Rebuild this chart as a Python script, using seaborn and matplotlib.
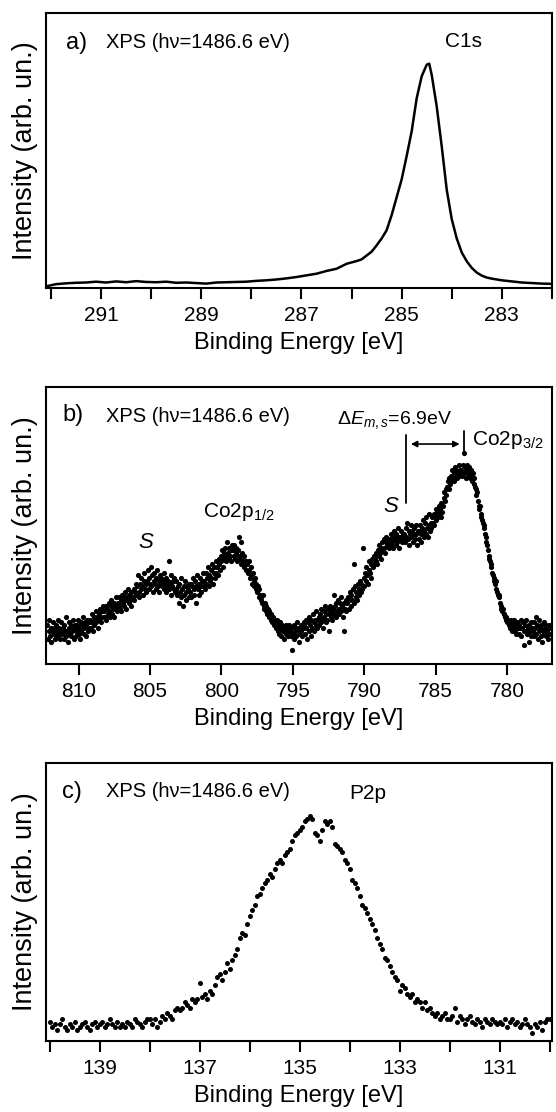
import matplotlib.pyplot as plt
import numpy as np
import pandas as pd
import seaborn as sns
from matplotlib.ticker import MultipleLocator, NullFormatter


# panel a: C1s line (arb. units, 0 = frame bottom, 100 = frame top)
C1S_ENERGY = [
    292.1, 291.9, 291.7, 291.5, 291.3, 291.1, 290.9, 290.7, 290.5, 290.3,
    290.1, 289.9, 289.7, 289.5, 289.3, 289.1, 288.9, 288.7, 288.5, 288.3,
    288.1, 287.9, 287.7, 287.5, 287.3, 287.1, 286.9, 286.7, 286.5, 286.3,
    286.1, 285.9, 285.8, 285.7, 285.6, 285.5, 285.4, 285.3, 285.2, 285.1,
    285.0, 284.9, 284.8, 284.7, 284.6, 284.5, 284.45, 284.4, 284.3, 284.2,
    284.1, 284.0, 283.9, 283.8, 283.7, 283.6, 283.5, 283.4, 283.3, 283.2,
    283.0, 282.8, 282.6, 282.4, 282.2, 282.0,
]
C1S_INTENSITY = [
    0.6, 1.4, 1.7, 1.9, 2.0, 2.3, 2.0, 2.4, 2.1, 2.5,
    2.2, 2.1, 2.3, 1.9, 2.0, 1.8, 1.6, 2.0, 2.1, 2.2,
    2.3, 2.6, 2.8, 3.1, 3.5, 4.0, 4.6, 5.2, 6.2, 7.0,
    8.8, 9.8, 10.4, 11.8, 13.2, 15.5, 18.0, 21.0, 26.5, 33.0,
    39.5, 48.0, 57.0, 69.0, 77.0, 81.2, 81.6, 77.5, 66.0, 51.5,
    35.7, 25.0, 18.0, 12.9, 9.7, 7.3, 5.6, 4.5, 3.8, 3.4,
    2.8, 2.4, 2.0, 1.8, 1.6, 1.5,
]

# panel b: Co2p points, one per 0.05 eV from 812.2 eV down to 777.0 eV
CO2P_START, CO2P_STOP = 812.2, 777.0
CO2P_INTENSITY = [
    14, 9, 12, 16, 10, 13, 8, 12, 15, 11, 13, 9, 14, 12, 10, 16, 11, 13, 9, 12,
    15, 11, 13, 9, 14, 12, 17, 10, 12, 8, 13, 15, 11, 14, 10, 12, 16, 13, 9, 14,
    12, 10, 14, 16, 11, 13, 9, 15, 12, 14, 17, 11, 13, 15, 10, 14, 16, 12, 15, 13,
    16, 13, 15, 18, 12, 17, 14, 16, 19, 15, 17, 13, 18, 16, 20, 17, 15, 19, 21, 17,
    19, 17, 21, 16, 20, 18, 22, 19, 17, 21, 23, 18, 20, 22, 17, 21, 24, 20, 19, 22,
    21, 24, 20, 23, 19, 25, 22, 24, 21, 26, 23, 20, 24, 27, 22, 25, 23, 21, 26, 24,
    24, 27, 23, 26, 29, 25, 28, 32, 26, 24, 29, 27, 31, 28, 25, 30, 33, 27, 29, 26,
    30, 34, 27, 31, 29, 35, 28, 32, 26, 30, 33, 29, 27, 31, 34, 28, 30, 26, 32, 29,
    31, 28, 30, 27, 33, 29, 26, 31, 28, 30, 37, 27, 29, 32, 25, 28, 30, 27, 31, 26,
    27, 30, 25, 28, 22, 29, 26, 24, 31, 27, 21, 28, 25, 30, 26, 23, 28, 27, 24, 29,
    26, 29, 24, 28, 31, 27, 25, 30, 22, 28, 32, 27, 29, 25, 31, 28, 26, 30, 33, 28,
    30, 27, 33, 29, 31, 35, 28, 32, 30, 34, 31, 36, 29, 33, 35, 31, 37, 33, 35, 32,
    36, 38, 34, 39, 37, 41, 35, 40, 38, 42, 37, 39, 44, 40, 38, 42, 39, 41, 37, 43,
    41, 39, 43, 38, 40, 42, 37, 41, 46, 39, 38, 44, 36, 40, 37, 35, 39, 36, 34, 37,
    36, 33, 37, 34, 31, 35, 32, 29, 33, 30, 28, 31, 27, 29, 26, 28, 24, 27, 25, 23,
    24, 22, 25, 21, 20, 22, 19, 21, 18, 20, 17, 19, 18, 16, 18, 15, 17, 16, 14, 16,
    15, 13, 16, 12, 14, 11, 15, 13, 10, 14, 12, 13, 9, 12, 14, 11, 13, 10, 12, 14,
    12, 10, 13, 5, 11, 14, 9, 12, 13, 10, 15, 12, 8, 13, 11, 14, 12, 10, 13, 15,
    14, 11, 16, 13, 9, 15, 12, 17, 14, 10, 16, 13, 18, 15, 12, 16, 14, 19, 13, 16,
    17, 14, 18, 15, 20, 16, 13, 19, 17, 21, 15, 18, 16, 20, 12, 18, 21, 17, 19, 16,
    20, 25, 18, 21, 17, 22, 19, 23, 20, 18, 22, 19, 24, 21, 17, 12, 22, 20, 23, 19,
    22, 24, 20, 23, 26, 21, 25, 23, 27, 22, 36, 28, 24, 26, 23, 29, 25, 27, 30, 26,
    29, 27, 42, 31, 28, 33, 30, 35, 32, 29, 34, 37, 33, 36, 31, 38, 35, 39, 36, 38,
    37, 40, 36, 41, 39, 43, 40, 38, 42, 44, 41, 45, 42, 40, 44, 46, 43, 45, 42, 44,
    45, 43, 47, 44, 42, 46, 48, 45, 43, 47, 44, 49, 46, 42, 45, 48, 46, 44, 47, 45,
    47, 44, 49, 46, 51, 45, 48, 43, 47, 50, 46, 48, 44, 49, 47, 45, 50, 47, 43, 48,
    48, 45, 50, 47, 44, 49, 52, 46, 48, 51, 47, 53, 49, 46, 50, 54, 48, 51, 49, 53,
    51, 54, 50, 53, 56, 52, 55, 53, 57, 54, 56, 53, 58, 55, 57, 60, 62, 59, 63, 61,
    64, 66, 63, 67, 65, 68, 66, 70, 67, 69, 66, 71, 68, 70, 67, 69, 72, 68, 70, 69,
    70, 68, 72, 76, 69, 71, 67, 70, 72, 68, 69, 71, 67, 70, 68, 66, 69, 65, 67, 64,
    63, 61, 62, 59, 57, 56, 57, 54, 53, 52, 51, 50, 49, 47, 46, 44, 43, 41, 39, 38,
    37, 35, 36, 33, 32, 31, 30, 29, 30, 27, 26, 25, 24, 25, 22, 21, 20, 19, 20, 18,
    18, 17, 16, 17, 15, 16, 14, 15, 13, 16, 14, 12, 15, 13, 16, 12, 14, 11, 15, 13,
    14, 11, 13, 16, 10, 13, 15, 12, 7, 14, 12, 16, 11, 13, 8, 14, 12, 15, 10, 13,
    12, 15, 10, 13, 17, 11, 14, 9, 12, 16, 13, 10, 14, 8, 12, 15, 11, 13, 10, 14,
    12, 9, 14, 11, 13,
]

# panel c: P2p points, one per 0.05 eV from 140.0 eV down to 130.0 eV
P2P_START, P2P_STOP = 140.0, 130.0
P2P_INTENSITY = [
    7, 5, 6, 4, 6, 8, 5, 4, 6, 5, 7, 4, 5, 6, 7, 5, 4, 6, 7, 5,
    6, 7, 5, 6, 8, 6, 5, 7, 5, 6, 5, 7, 6, 5, 8, 7, 6, 5, 7, 8,
    8, 6, 8, 5, 7, 9, 8, 10, 9, 8, 11, 12, 11, 12, 14, 13, 12, 15, 14, 15,
    21, 16, 17, 15, 18, 17, 20, 23, 24, 22, 25, 28, 26, 29, 31, 33, 37, 39, 38, 42,
    45, 47, 49, 52, 53, 55, 57, 58, 60, 59, 62, 64, 65, 64, 67, 68, 69, 72, 74, 75,
    76, 77, 79, 80, 81, 80, 75, 74, 72, 76, 79, 78, 79, 77, 71, 70, 69, 68, 65, 64,
    62, 58, 57, 55, 52, 49, 48, 46, 44, 42, 40, 37, 35, 33, 30, 29, 27, 25, 23, 22,
    18, 20, 19, 17, 16, 17, 14, 15, 14, 12, 14, 11, 12, 10, 9, 10, 8, 9, 10, 8,
    8, 9, 12, 7, 9, 8, 6, 8, 9, 7, 6, 8, 7, 5, 8, 7, 6, 8, 7, 6,
    7, 6, 8, 5, 7, 8, 6, 7, 5, 6, 8, 6, 5, 3, 6, 5, 7, 4, 7, 8,
    8,
]

XPS_NOTE = "XPS (h\u03bd=1486.6 eV)"
X_LABEL = "Binding Energy [eV]"
Y_LABEL = "Intensity (arb. un.)"

sns.set_style("ticks")
plt.rcParams["font.family"] = ["Liberation Sans", "DejaVu Sans"]
plt.rcParams["mathtext.fontset"] = "custom"
plt.rcParams["mathtext.rm"] = "Liberation Sans"
plt.rcParams["mathtext.it"] = "Liberation Sans:italic"
plt.rcParams["mathtext.bf"] = "Liberation Sans:bold"
plt.rcParams["text.color"] = "black"
plt.rcParams["axes.labelcolor"] = "black"

co2p = pd.DataFrame({
    "energy": np.linspace(CO2P_START, CO2P_STOP, len(CO2P_INTENSITY)),
    "intensity": CO2P_INTENSITY,
})
p2p = pd.DataFrame({
    "energy": np.linspace(P2P_START, P2P_STOP, len(P2P_INTENSITY)),
    "intensity": P2P_INTENSITY,
})
c1s = pd.DataFrame({"energy": C1S_ENERGY, "intensity": C1S_INTENSITY})


def style_axis(ax, xlim, major, minor=None):
    ax.set_xlim(*xlim)
    ax.set_ylim(0, 100)
    ax.set_yticks([])
    ax.xaxis.set_major_locator(MultipleLocator(major))
    if minor:
        ax.xaxis.set_minor_locator(MultipleLocator(minor))
        ax.xaxis.set_minor_formatter(NullFormatter())
    ax.tick_params(axis="x", which="both", direction="out", length=8, width=1.5,
                   pad=5, labelsize=15, colors="black", top=False)
    for spine in ax.spines.values():
        spine.set_visible(True)
        spine.set_linewidth(1.5)
        spine.set_color("black")
    ax.set_xlabel(X_LABEL, fontsize=17, labelpad=5)
    ax.set_ylabel(Y_LABEL, fontsize=19.5, labelpad=6)


fig = plt.figure(figsize=(5.56, 11.12), dpi=100)
ax_a = fig.add_axes([0.0827, 0.741, 0.910, 0.2473])
ax_b = fig.add_axes([0.0827, 0.4029, 0.910, 0.2491])
ax_c = fig.add_axes([0.0827, 0.0638, 0.910, 0.2500])

# a) C1s
sns.lineplot(data=c1s, x="energy", y="intensity", ax=ax_a, color="black",
             linewidth=1.8, estimator=None, sort=False)
style_axis(ax_a, (292.1, 282.0), 2, 1)
ax_a.xaxis.set_major_locator(MultipleLocator(2, offset=1))
ax_a.text(0.0395, 0.891, "a)", transform=ax_a.transAxes, fontsize=17, va="center")
ax_a.text(0.1186, 0.891, XPS_NOTE, transform=ax_a.transAxes, fontsize=14.5, va="center")
ax_a.text(0.825, 0.895, "C1s", transform=ax_a.transAxes, fontsize=15, va="center", ha="center")

# b) Co2p
sns.scatterplot(data=co2p, x="energy", y="intensity", ax=ax_b, color="black",
                s=14, linewidth=0)
style_axis(ax_b, (812.28, 776.86), 5)
ax_b.text(0.0316, 0.899, "b)", transform=ax_b.transAxes, fontsize=17, va="center")
ax_b.text(0.1186, 0.892, XPS_NOTE, transform=ax_b.transAxes, fontsize=14.5, va="center")
ax_b.text(0.575, 0.881, r"$\Delta E_{m,s}$=6.9eV", transform=ax_b.transAxes,
          fontsize=14, va="center")
ax_b.text(0.842, 0.791, r"Co2p$_{3/2}$", transform=ax_b.transAxes, fontsize=15,
          va="baseline")
ax_b.text(0.310, 0.531, r"Co2p$_{1/2}$", transform=ax_b.transAxes, fontsize=15,
          va="baseline")
ax_b.text(788.17, 0.567, "S", transform=ax_b.get_xaxis_transform(), fontsize=16,
          style="italic", ha="center", va="center")
ax_b.text(805.27, 0.437, "S", transform=ax_b.get_xaxis_transform(), fontsize=16,
          style="italic", ha="center", va="center")
ax_b.axvline(787.09, ymin=0.581, ymax=0.827, color="black", linewidth=1.3)
ax_b.axvline(783.04, ymin=0.762, ymax=0.841, color="black", linewidth=1.3)
ax_b.annotate("", xy=(783.32, 0.794), xytext=(786.74, 0.794),
              xycoords=ax_b.get_xaxis_transform(),
              arrowprops=dict(arrowstyle="<|-|>", color="black", lw=1.2,
                              mutation_scale=9, shrinkA=0, shrinkB=0))

# c) P2p
sns.scatterplot(data=p2p, x="energy", y="intensity", ax=ax_c, color="black",
                s=13, linewidth=0)
style_axis(ax_c, (140.08, 129.96), 2, 1)
ax_c.xaxis.set_major_locator(MultipleLocator(2, offset=1))
ax_c.text(0.0316, 0.896, "c)", transform=ax_c.transAxes, fontsize=17, va="center")
ax_c.text(0.1186, 0.896, XPS_NOTE, transform=ax_c.transAxes, fontsize=14.5, va="center")
ax_c.text(0.599, 0.892, "P2p", transform=ax_c.transAxes, fontsize=15, va="center")

fig.savefig("out.png", dpi=100)
